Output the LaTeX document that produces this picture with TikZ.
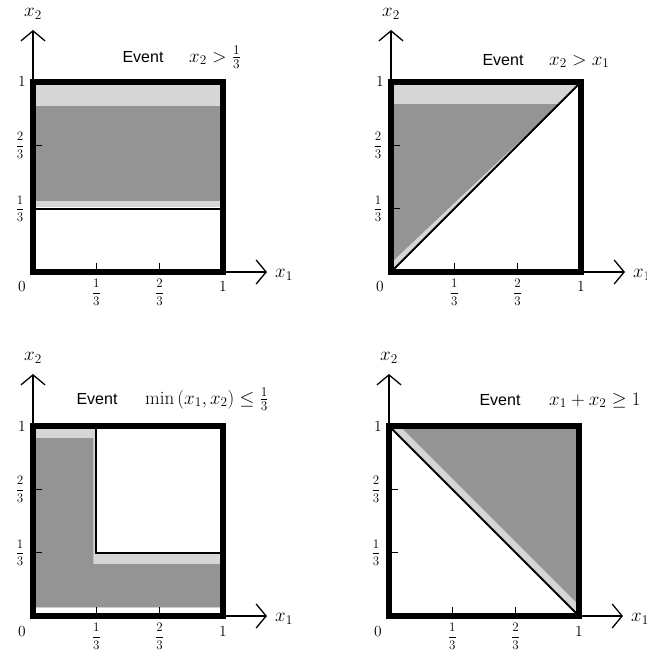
\RequirePackage{fix-cm}
\documentclass[tikz,border=0pt]{standalone}
\usepackage{amsmath}
\usepackage{fontspec}
\newfontfamily\evfont{Liberation Sans}
\usetikzlibrary{arrows.meta}
\tikzset{
  x=1pt, y=1pt,
  frame/.style={line width=5.5pt, line join=miter},
  axis/.style={line width=1.3pt, -{Straight Barb[length=10pt,width=24pt,line width=1.3pt]}},
  tickmark/.style={line width=1.2pt},
  thinline/.style={line width=1.8pt},
  darkshade/.style={fill=black!42},
  lightshade/.style={fill=black!16},
  ticklab/.style={font=\fontsize{13}{15}\selectfont, inner sep=0pt},
  unitlab/.style={font=\fontsize{15.5}{18}\selectfont, inner sep=0pt},
  axlab/.style={font=\fontsize{19}{22}\selectfont, inner sep=0pt},
  evlab/.style={font=\evfont\fontsize{16}{19}\selectfont, inner sep=0pt, anchor=base},
  mathlab/.style={font=\fontsize{19}{22}\selectfont, inner sep=0pt, anchor=base west},
}
\newcommand\axesof[1]{%
  \coordinate (#1o) at (0,0);
  \coordinate (#1ytip) at (0,242);
  \coordinate (#1xtip) at (234,0);
  \draw[axis] (#1o) -- (#1ytip);
  \draw[axis] (#1o) -- (#1xtip);
  \foreach \t in {1,2} {
    \draw[tickmark] (\t*190/3,0) -- ++(0,9);
    \draw[tickmark] (0,\t*190/3) -- ++(9,0);
  }
  \draw[frame] (0,0) rectangle (190,190);
  \node[unitlab] (#1lo) at (-11,-15) {$0$};
  \node[unitlab] (#1lxone) at (190,-15) {$1$};
  \node[unitlab] (#1lyone) at (-11,190) {$1$};
  \node[ticklab] (#1lxa) at (190/3,-20) {$\dfrac{1}{3}$};
  \node[ticklab] (#1lxb) at (380/3,-20) {$\dfrac{2}{3}$};
  \node[ticklab] (#1lya) at (-13,190/3) {$\dfrac{1}{3}$};
  \node[ticklab] (#1lyb) at (-13,380/3) {$\dfrac{2}{3}$};
  \node[axlab] (#1xtwo) at (0,258) {$x_2$};
  \node[axlab] (#1xone) at (251,-3) {$x_1$};
}
\begin{document}
\begin{tikzpicture}
\useasboundingbox (0,-651) rectangle (646,0);

% Panel 1: x2 > 1/3
\begin{scope}[shift={(33,-272)}]
  \fill[lightshade] (0,190/3+2) rectangle (190,190);
  \fill[darkshade] (3,190/3+8) rectangle (188,166);
  \draw[thinline] (0,190/3) -- (190,190/3);
  \axesof{a}
  \node[evlab] (aev) at (110,210) {Event};
  \node[mathlab] (amath) at (156,210) {$x_2 > \frac{1}{3}$};
\end{scope}

% Panel 2: x2 > x1
\begin{scope}[shift={(391,-272)}]
  \fill[lightshade] (0,0) -- (0,190) -- (190,190) -- cycle;
  \fill[darkshade] (3,12) -- (3,168) -- (168,168) -- cycle;
  \draw[thinline] (0,0) -- (190,190);
  \axesof{b}
  \node[evlab] (bev) at (112,207) {Event};
  \node[mathlab] (bmath) at (158,207) {$x_2 > x_1$};
\end{scope}

% Panel 3: min(x1,x2) <= 1/3
\begin{scope}[shift={(33,-616)}]
  \fill[lightshade] (0,0) -- (0,190) -- (190/3,190) -- (190/3,190/3) -- (190,190/3) -- (190,0) -- cycle;
  \fill[darkshade] (3,9) -- (3,178) -- (190/3-3,178) -- (190/3-3,52) -- (187,52) -- (187,9) -- cycle;
  \fill[white] (3,2) rectangle (188,8);
  \draw[thinline] (190/3,190) -- (190/3,190/3) -- (190,190/3);
  \axesof{c}
  \node[evlab] (cev) at (64,212) {Event};
  \node[mathlab] (cmath) at (112,212) {$\min\,(x_1, x_2)\leq \frac{1}{3}$};
\end{scope}

% Panel 4: x1 + x2 >= 1
\begin{scope}[shift={(389,-616)}]
  \fill[lightshade] (0,190) -- (190,190) -- (190,0) -- cycle;
  \fill[darkshade] (14,187) -- (187,187) -- (187,14) -- cycle;
  \draw[thinline] (0,190) -- (190,0);
  \axesof{d}
  \node[evlab] (dev) at (111,211) {Event};
  \node[mathlab] (dmath) at (160,211) {$x_1 + x_2 \geq 1$};
\end{scope}
\end{tikzpicture}
\end{document}
